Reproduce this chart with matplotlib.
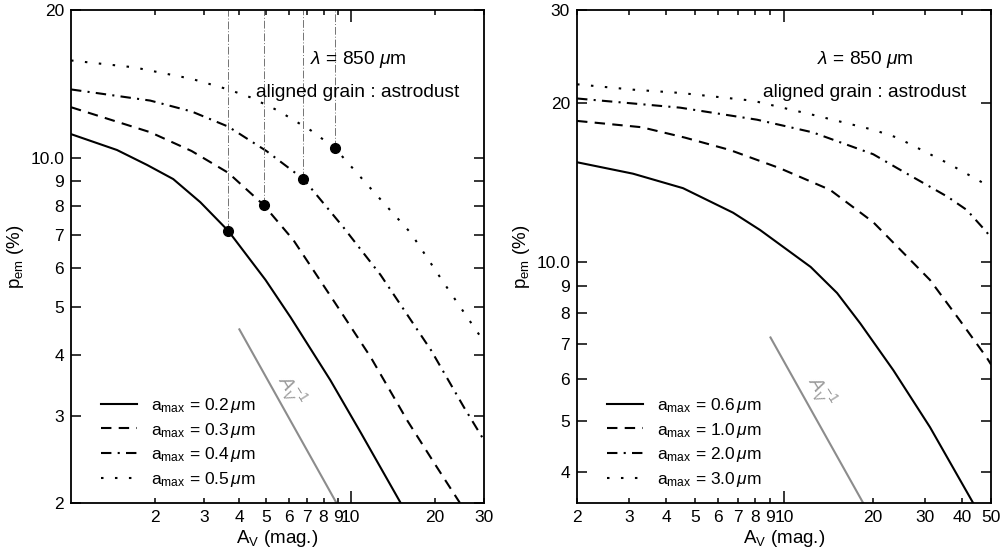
import matplotlib
matplotlib.use('Agg')
import matplotlib.pyplot as plt

plt.rcParams['font.family'] = ['Liberation Sans', 'DejaVu Sans']
plt.rcParams['mathtext.fontset'] = 'custom'
plt.rcParams['mathtext.rm'] = 'Liberation Sans'
plt.rcParams['mathtext.it'] = 'Liberation Sans:italic'
plt.rcParams['font.size'] = 12.5

# ---- left panel: a_max = 0.2 .. 0.5 um ----
av_02 = [1.0, 1.46, 1.87, 2.32, 2.9, 3.65, 4.96, 6.1, 8.46, 10.9, 15.1]
p_02 = [11.2, 10.4, 9.7, 9.08, 8.15, 7.13, 5.67, 4.76, 3.55, 2.77, 2.0]
av_03 = [1.0, 1.92, 2.7, 3.65, 4.88, 6.24, 8.8, 11.8, 16.0, 20.0, 24.6]
p_03 = [12.7, 11.3, 10.35, 9.35, 8.05, 6.83, 5.09, 3.95, 2.93, 2.4, 2.0]
av_04 = [1.0, 1.92, 2.7, 3.65, 5.0, 6.78, 9.4, 12.8, 14.7, 19.4, 25.4, 30.0]
p_04 = [13.8, 13.1, 12.45, 11.6, 10.35, 9.08, 7.26, 5.8, 5.16, 4.08, 3.13, 2.68]
av_05 = [1.0, 1.68, 2.7, 3.65, 4.38, 5.5, 7.2, 8.77, 12.1, 16.4, 21.5, 28.5, 30.0]
p_05 = [15.8, 15.3, 14.5, 13.8, 13.3, 12.5, 11.4, 10.5, 8.55, 7.06, 5.6, 4.43, 4.25]

# marked points on each curve
mark_av = [3.65, 4.88, 6.78, 8.77]
mark_p = [7.13, 8.05, 9.08, 10.5]

guide_left_av = [4.0, 8.9]
guide_left_p = [4.5, 2.0]

# ---- right panel: a_max = 0.6 .. 3.0 um ----
av_06 = [2.0, 3.09, 4.56, 6.73, 8.3, 12.3, 15.1, 18.1, 23.4, 31.1, 43.5]
p_06 = [15.45, 14.7, 13.8, 12.4, 11.5, 9.79, 8.74, 7.65, 6.24, 4.87, 3.5]
av_10 = [2.0, 3.3, 4.63, 6.56, 9.66, 14.3, 20.0, 24.1, 31.1, 39.2, 48.3, 50.0]
p_10 = [18.5, 18.0, 17.2, 16.3, 15.06, 13.7, 11.9, 10.7, 9.25, 7.76, 6.6, 6.4]
av_20 = [2.0, 4.46, 8.1, 12.5, 20.0, 24.1, 35.6, 41.4, 48.3, 50.0]
p_20 = [20.4, 19.6, 18.6, 17.6, 16.0, 15.06, 13.3, 12.55, 11.4, 11.1]
av_30 = [2.0, 3.09, 4.46, 7.86, 12.5, 20.0, 24.1, 35.6, 48.3, 50.0]
p_30 = [21.7, 21.2, 20.9, 20.2, 19.0, 17.8, 17.2, 15.4, 14.0, 13.8]

guide_right_av = [9.0, 18.5]
guide_right_p = [7.2, 3.5]

left_labels = ['0.2', '0.3', '0.4', '0.5']
right_labels = ['0.6', '1.0', '2.0', '3.0']

styles = ['-', (0, (5, 3.5)), (0, (5, 3, 1, 3)), (0, (1.2, 5.5))]

fig = plt.figure(figsize=(10.03, 5.58), dpi=100)
axL = fig.add_axes([0.0708, 0.0986, 0.4118, 0.8835])
axR = fig.add_axes([0.5753, 0.0986, 0.4128, 0.8835])

for ax, data, labels in [
        (axL, [(av_02, p_02), (av_03, p_03), (av_04, p_04), (av_05, p_05)], left_labels),
        (axR, [(av_06, p_06), (av_10, p_10), (av_20, p_20), (av_30, p_30)], right_labels)]:
    for (x, y), ls, lab in zip(data, styles, labels):
        ax.plot(x, y, color='black', lw=1.5, ls=ls,
                label=r'a$_{\rm max}$ = ' + lab + r'$\,\mu$m')
    ax.set_xscale('log')
    ax.set_yscale('log')
    for s in ax.spines.values():
        s.set_linewidth(1.3)
    ax.tick_params(which='both', direction='in', top=True, right=True,
                   width=1.1, pad=5)
    ax.set_xlabel(r'A$_{\rm V}$ (mag.)', fontsize=13.5, labelpad=2)
    ax.set_ylabel(r'p$_{\rm em}$ (%)', fontsize=13.5, labelpad=3)
    ax.text(0.695, 0.899, r'$\lambda$ = 850 $\mu$m', transform=ax.transAxes,
            ha='center', va='center', fontsize=13.8)
    ax.text(0.695, 0.832, 'aligned grain : astrodust', transform=ax.transAxes,
            ha='center', va='center', fontsize=13.8)
    ax.legend(loc='lower left', bbox_to_anchor=(0.055, 0.015), frameon=False,
              handlelength=2.1, handletextpad=0.8, labelspacing=0.32,
              borderaxespad=0)

# guide lines and markers, left panel
for x, y in zip(mark_av, mark_p):
    axL.plot([x, x], [y, 20], color='0.45', lw=0.7, ls=(0, (8, 2, 1, 2)))
axL.plot(mark_av, mark_p, 'o', color='black', ms=7)
axL.plot(guide_left_av, guide_left_p, color='0.55', lw=1.5)
axL.text(6.1, 3.39, r'$A_V^{-1}$', color='0.6', rotation=-58,
         ha='center', va='center', fontsize=14)
axR.plot(guide_right_av, guide_right_p, color='0.55', lw=1.5)
axR.text(13.3, 5.68, r'$A_V^{-1}$', color='0.6', rotation=-58,
         ha='center', va='center', fontsize=14)

# left axes ticks
axL.set_xlim(1, 30)
axL.set_ylim(2, 20)
axL.set_xticks([10], ['10'])
axL.set_xticks([2, 3, 4, 5, 6, 7, 8, 9, 20, 30],
               ['2', '3', '4', '5', '6', '7', '8', '9', '20', '30'], minor=True)
axL.set_yticks([10, 20], ['10.0', '20'])
axL.set_yticks([2, 3, 4, 5, 6, 7, 8, 9],
               ['2', '3', '4', '5', '6', '7', '8', '9'], minor=True)

# right axes ticks
axR.set_xlim(2, 50)
axR.set_ylim(3.5, 30)
axR.set_xticks([10], ['10'])
axR.set_xticks([2, 3, 4, 5, 6, 7, 8, 9, 20, 30, 40, 50],
               ['2', '3', '4', '5', '6', '7', '8', '9', '20', '30', '40', '50'],
               minor=True)
axR.set_yticks([10, 20, 30], ['10.0', '20', '30'])
axR.set_yticks([4, 5, 6, 7, 8, 9], ['4', '5', '6', '7', '8', '9'], minor=True)

for ax in (axL, axR):
    ax.tick_params(axis='x', which='major', length=8.5)
    ax.tick_params(axis='x', which='minor', length=3.6)
    ax.tick_params(axis='y', which='both', length=7)

fig.savefig('out.png', dpi=100)
